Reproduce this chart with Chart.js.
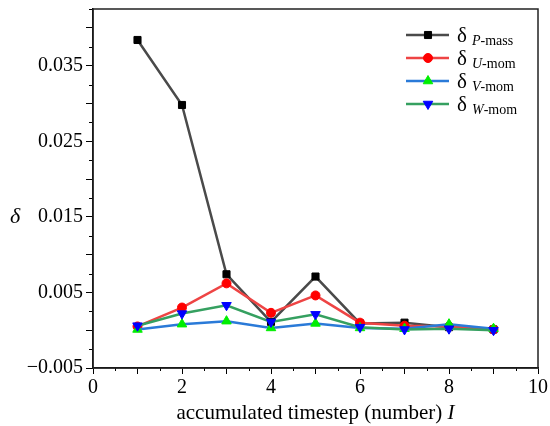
<!DOCTYPE html>
<html>
<head>
<meta charset="utf-8">
<script src="https://cdn.jsdelivr.net/npm/chart.js@4.4.1/dist/chart.umd.min.js"></script>
<style>
  html, body { margin: 0; padding: 0; background: #fff; }
  #wrap { width: 550px; height: 426px; position: relative; }
</style>
</head>
<body>
<div id="wrap"><canvas id="chart"></canvas></div>
<script>
// accumulated timestep I
const steps = [1, 2, 3, 4, 5, 6, 7, 8, 9]

// relative change δ per field
const deltaPMass = [0.0384, 0.0298, 0.0074, 0.0011, 0.0071, 0.0009, 0.0010, 0.0004, 0.0001]
const deltaUMom  = [0.0005, 0.0030, 0.0062, 0.0023, 0.0046, 0.0010, 0.0006, 0.0005, 0.0001]
const deltaVMom  = [0.0001, 0.0008, 0.0012, 0.0003, 0.0009, 0.0003, 0.0002, 0.0008, 0.0002]
const deltaWMom  = [0.0006, 0.0022, 0.0033, 0.0011, 0.0021, 0.0004, 0.0001, 0.0002, 0.0000]

// legend subscripts: italic letter + plain suffix
const legendSubs = [["P", "-mass"], ["U", "-mom"], ["V", "-mom"], ["W", "-mom"]]

const xTitle = "accumulated timestep (number) "
const xTitleVar = "I"
const yTitle = "δ"

const SERIF = '"Liberation Serif", "Times New Roman", serif'
Chart.defaults.font.family = SERIF
Chart.defaults.color = "#000"

const toPoints = (arr) => arr.map((v, i) => ({ x: steps[i], y: v }))

const series = (data, line, marker, style, rot, radius, order) => ({
  data: toPoints(data),
  borderColor: line,
  borderWidth: 2.5,
  pointBackgroundColor: marker,
  pointBorderColor: marker,
  pointBorderWidth: 1,
  pointStyle: style,
  pointRotation: rot,
  pointRadius: radius,
  tension: 0,
  order: order
})

// minor ticks, frame, axis titles and the legend with subscripts
const decorations = {
  id: "decorations",
  afterDraw(chart) {
    const { ctx, chartArea: a, scales } = chart
    ctx.save()

    // minor ticks
    ctx.strokeStyle = "#000"
    ctx.lineWidth = 1
    ctx.beginPath()
    for (let v = -0.0025; v < 0.0425; v += 0.005) {
      const y = Math.round(scales.y.getPixelForValue(v)) + 0.5
      ctx.moveTo(a.left - 4, y)
      ctx.lineTo(a.left, y)
    }
    for (let v = 0.5; v < 10; v += 1) {
      const x = Math.round(scales.x.getPixelForValue(v)) + 0.5
      ctx.moveTo(x, a.bottom)
      ctx.lineTo(x, a.bottom + 3)
    }
    ctx.stroke()

    // frame
    ctx.lineWidth = 1.5
    ctx.strokeStyle = "#222"
    ctx.strokeRect(a.left, a.top, a.right - a.left, a.bottom - a.top)

    // axis titles
    ctx.fillStyle = "#000"
    ctx.textBaseline = "alphabetic"
    ctx.font = "21px " + SERIF
    const w1 = ctx.measureText(xTitle).width
    ctx.font = "italic 21px " + SERIF
    const w2 = ctx.measureText(xTitleVar).width
    const cx = (a.left + a.right) / 2
    const tx = cx - (w1 + w2) / 2
    ctx.font = "21px " + SERIF
    ctx.textAlign = "left"
    ctx.fillText(xTitle, tx, 419)
    ctx.font = "italic 21px " + SERIF
    ctx.fillText(xTitleVar, tx + w1, 419)

    ctx.font = "italic 22px " + SERIF
    ctx.textAlign = "center"
    ctx.fillText(yTitle, 15, 223)

    // legend
    chart.data.datasets.forEach((ds, i) => {
      const y = 35 + i * 23
      ctx.strokeStyle = ds.borderColor
      ctx.lineWidth = 2.5
      ctx.beginPath()
      ctx.moveTo(406, y)
      ctx.lineTo(449, y)
      ctx.stroke()

      ctx.fillStyle = ds.pointBackgroundColor
      ctx.strokeStyle = ds.pointBorderColor
      ctx.lineWidth = 1
      Chart.helpers.drawPoint(ctx, {
        pointStyle: ds.pointStyle,
        rotation: ds.pointRotation,
        radius: ds.pointRadius,
        borderWidth: 1
      }, 428, y)

      ctx.fillStyle = "#000"
      ctx.textAlign = "left"
      ctx.font = "21px " + SERIF
      ctx.fillText("δ", 457, y + 7)
      ctx.font = "italic 14px " + SERIF
      ctx.fillText(legendSubs[i][0], 472, y + 10)
      const pw = ctx.measureText(legendSubs[i][0]).width
      ctx.font = "14px " + SERIF
      ctx.fillText(legendSubs[i][1], 472 + pw, y + 10)
    })

    ctx.restore()
  }
}

const isLabeledY = (v) => {
  const k = (v + 0.005) / 0.01
  return Math.abs(k - Math.round(k)) < 1e-6
}

new Chart(document.getElementById("chart"), {
  type: "line",
  data: {
    datasets: [
      series(deltaPMass, "#4a4a4a", "#000000", "rect", 0, 5, 3),
      series(deltaUMom, "#ee4444", "#ff0000", "circle", 0, 4.5, 2),
      series(deltaVMom, "#2a7ad8", "#00ee00", "triangle", 0, 5.5, 1),
      series(deltaWMom, "#35a060", "#0000ff", "triangle", 180, 5.5, 0)
    ]
  },
  options: {
    responsive: true,
    maintainAspectRatio: false,
    animation: false,
    layout: { padding: { top: 9, right: 12, left: 0, bottom: 0 } },
    plugins: {
      legend: { display: false },
      tooltip: { enabled: false }
    },
    scales: {
      x: {
        type: "linear",
        min: 0,
        max: 10,
        afterFit: (s) => { s.height = 58; s.paddingLeft = 0; s.paddingRight = 0 },
        border: { color: "#000", width: 1.5 },
        grid: { drawOnChartArea: false, tickLength: 6, tickColor: "#000" },
        ticks: {
          stepSize: 1,
          autoSkip: false,
          maxRotation: 0,
          padding: 2,
          font: { size: 20 },
          callback: (v) => (v % 2 === 0 ? String(v) : "")
        }
      },
      y: {
        min: -0.005,
        max: 0.0425,
        afterFit: (s) => { s.width = 93; s.paddingTop = 0; s.paddingBottom = 0 },
        border: { color: "#000", width: 1.5 },
        grid: { drawOnChartArea: false, tickLength: 7, tickColor: "#000" },
        ticks: {
          stepSize: 0.005,
          includeBounds: false,
          autoSkip: false,
          padding: 3,
          font: { size: 20 },
          callback: (v) => (isLabeledY(v) ? v.toFixed(3).replace("-", "\u2212") : "")
        }
      }
    }
  },
  plugins: [decorations]
})
</script>
</body>
</html>
